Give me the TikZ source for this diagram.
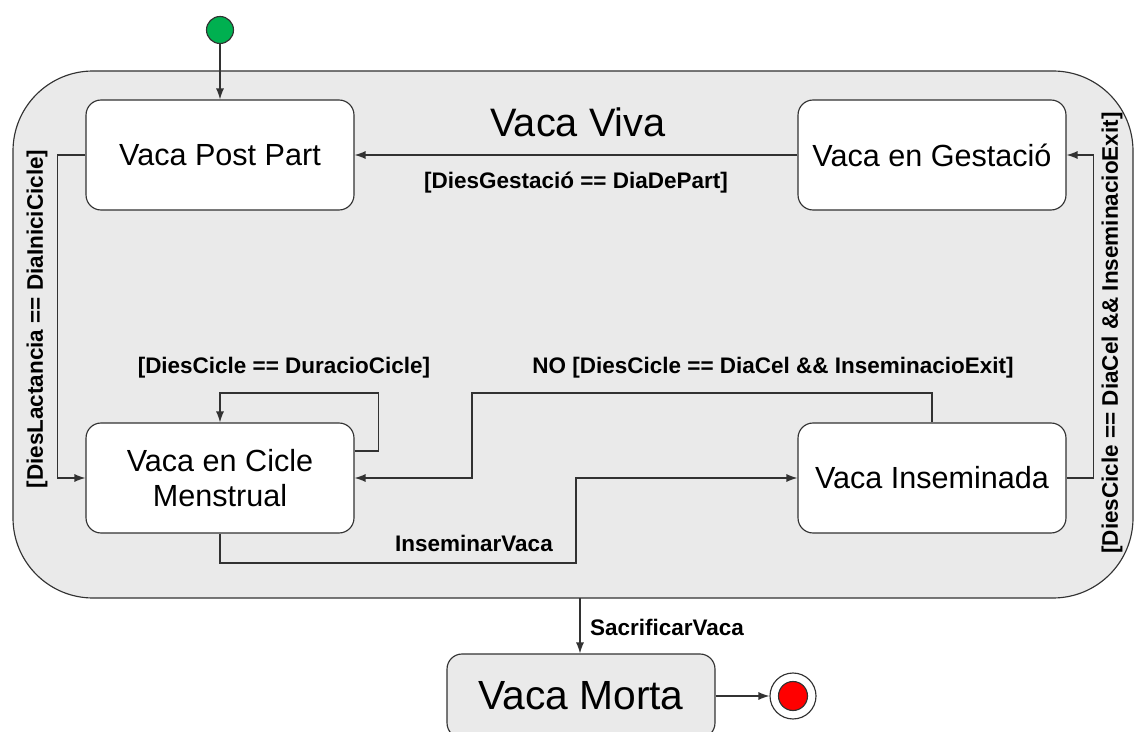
\documentclass[tikz,border=0pt]{standalone}
\usepackage{fontspec}
\setmainfont{Liberation Sans}
\definecolor{fonsgris}{RGB}{234, 234, 234}
\definecolor{linia}{RGB}{50, 50, 50}
\definecolor{inicverd}{RGB}{0, 176, 80}
\definecolor{fivermell}{RGB}{255, 0, 0}
\usetikzlibrary{arrows.meta, positioning, calc}

\begin{document}
\begin{tikzpicture}[x=0.02cm, y=0.02cm, line width=0.65pt,
    state/.style={draw=linia, fill=white, rounded corners=0.3cm, minimum width=5.36cm,
                  minimum height=2.2cm, inner sep=0pt, align=center, font=\fontsize{17.4}{20}\selectfont},
    trans/.style={draw=linia, -{Latex[length=2.2mm, width=1.6mm]}},
    guard/.style={font=\bfseries\fontsize{12.8}{15}\selectfont, inner sep=1pt}]
    \useasboundingbox (0,0) rectangle (1136,731);
    % Composite state
    \draw[linia, fill=fonsgris, rounded corners=1.6cm] (13,133) rectangle (1133,660);
    \node[font=\fontsize{22.6}{26}\selectfont] (viva) at (578,609) {Vaca Viva};
    % States
    \node[state] (postpart) at (220,576) {Vaca Post Part};
    \node[state] (gestacio) at (932,576) {Vaca en Gestaci\'o};
    \node[state] (cicle) at (220,253) {Vaca en Cicle\\Menstrual};
    \node[state] (inseminada) at (932,253) {Vaca Inseminada};
    \node[state, fill=fonsgris, minimum height=1.68cm, font=\fontsize{23.2}{26}\selectfont] (morta) at (581,35) {Vaca Morta};
    % Initial and final
    \node[circle, draw=linia, fill=inicverd, minimum size=0.54cm, inner sep=0pt] (inici) at (220,701) {};
    \node[circle, draw=linia, fill=white, minimum size=0.92cm, inner sep=0pt] (final) at (793,35) {};
    \node[circle, draw=linia, fill=fivermell, minimum size=0.58cm, inner sep=0pt] at (final) {};
    % Transitions
    \draw[trans] (inici) -- (postpart);
    \draw[trans] (gestacio) -- (postpart);
    \draw[trans] (postpart.west) -- ++(-28,0) |- (cicle.west);
    \draw[trans] ([yshift=0.54cm]cicle.east) -- ++(24,0) -- ++(0,58) -| (cicle.north);
    \draw[trans] (inseminada.north) |- (472,338) |- (cicle.east);
    \draw[trans] (cicle.south) |- (576,168) |- (inseminada.west);
    \draw[trans] (inseminada.east) -- ++(27,0) |- (gestacio.east);
    \draw[trans] (580,133) -- (morta.north -| 580,0);
    \draw[trans] (morta) -- (final);
    % Guards
    \node[guard] at (576,548) {[DiesGestaci\'o == DiaDePart]};
    \node[guard, rotate=90] at (37,412) {[DiesLactancia == DiaIniciCicle]};
    \node[guard, rotate=90] at (1112,398) {[DiesCicle == DiaCel \&\& InseminacioExit]};
    \node[guard] at (284,363) {[DiesCicle == DuracioCicle]};
    \node[guard] at (773,363) {NO [DiesCicle == DiaCel \&\& InseminacioExit]};
    \node[guard] at (474,188) {InseminarVaca};
    \node[guard] at (667,104) {SacrificarVaca};
\end{tikzpicture}
\end{document}
